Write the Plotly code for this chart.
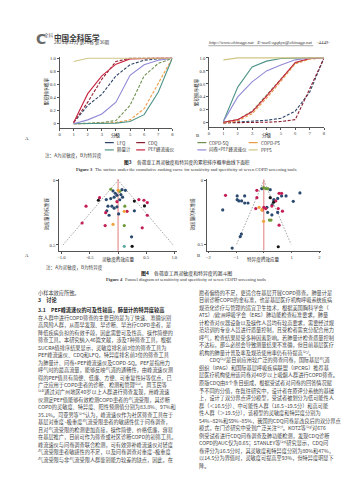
import plotly.graph_objects as go

W, H = 355, 480

# ---------------- data ----------------
grades = [1, 2, 3, 4, 5, 6, 7, 8]
tool_names = ["LFQ", "CDQ", "COPD-SQ", "COPD-PS", "肺量计", "PEF峰流速仪", "问卷+PEF峰流速仪", "PPFS"]

sens_LFQ = [0.02, 0.28, 0.45, 0.73, 0.90, 0.97, 0.99, 1.0]
sens_CDQ = [0.02, 0.33, 0.68, 0.95, 1.0, 1.0, 1.0, 1.0]
sens_COPDSQ = [0.0, 0.01, 0.02, 0.05, 0.28, 0.73, 0.92, 1.0]
sens_COPDPS = [0.0, 0.0, 0.01, 0.02, 0.06, 0.23, 0.61, 1.0]
sens_spiro = [0.0, 0.0, 0.0, 0.01, 0.035, 0.14, 0.48, 1.0]
sens_PEF = [0.02, 0.46, 0.73, 0.91, 0.99, 1.0, 1.0, 1.0]
sens_qPEF = [0.0, 0.06, 0.15, 0.33, 0.74, 0.90, 0.97, 1.0]
sens_PPFS = [0.95, 1.0, 1.0, 1.0, 1.0, 1.0, 1.0, 1.0]

spec_LFQ = [0.0, 0.01, 0.02, 0.04, 0.07, 0.18, 0.47, 1.0]
spec_CDQ = [0.0, 0.0, 0.01, 0.01, 0.02, 0.05, 0.52, 1.0]
spec_COPDSQ = [0.01, 0.05, 0.18, 0.43, 0.68, 0.92, 0.99, 1.0]
spec_COPDPS = [0.0, 0.03, 0.14, 0.38, 0.64, 0.91, 0.98, 1.0]
spec_spiro = [0.02, 0.55, 0.86, 0.95, 0.99, 1.0, 1.0, 1.0]
spec_PEF = [0.01, 0.05, 0.17, 0.41, 0.67, 0.93, 0.99, 1.0]
spec_qPEF = [0.02, 0.40, 0.63, 0.80, 0.89, 0.97, 1.0, 1.0]
spec_PPFS = [0.97, 1.0, 1.0, 1.0, 1.0, 1.0, 1.0, 1.0]

# funnel plot A (sensitivity): effect size, standard error
fa_navy_x = [-0.09, 0.07, -0.05, -0.02, -0.07, 0.05, -0.13, -0.21, -0.18, -0.11, -0.07, -0.02, -0.20, -0.16, 0.01, 0.29, 0.24, 0.13, 0.08, 0.03]
fa_navy_y = [0.082, 0.072, 0.10, 0.116, 0.13, 0.11, 0.141, 0.149, 0.20, 0.20, 0.215, 0.205, 0.236, 0.27, 0.26, 0.236, 0.437, 0.077, 0.13, 0.15]
fa_red_x = [-0.33, -0.57, -0.64, -0.22, -0.23, 0.16, 0.37, 0.46, 0.52, 0.52, 0.43, -0.02]
fa_red_y = [0.134, 0.20, 0.33, 0.25, 0.35, 0.24, 0.149, 0.154, 0.172, 0.27, 0.367, 0.165]
fa_black_x = [-0.35, 0.29, 0.47, 0.25]
fa_black_y = [0.154, 0.16, 0.198, 0.51]
fa_green_x = [-0.13, 0.11, 0.12, 0.03]
fa_green_y = [0.069, 0.35, 0.20, 0.085]
fa_orange_x = [0.0, -0.09, 0.11]
fa_orange_y = [0.077, 0.34, 0.24]
fa_teal_x = [0.11]
fa_teal_y = [0.51]

# funnel plot B (specificity)
fb_navy_x = [-0.96, -0.96, -0.9, -0.8, -0.69, -0.69, -0.57, -1.48, -0.81, -0.85, -1.14, -0.07, 0.23, 0.36, 0.5, 0.64, 0.8, 1.06, 1.3, 0.11, 0.5, 0.29, 0.14, 0.3]
fb_navy_y = [0.12, 0.15, 0.16, 0.16, 0.12, 0.176, 0.176, 0.23, 0.42, 0.44, 0.53, 0.063, 0.071, 0.15, 0.14, 0.12, 0.12, 0.163, 0.097, 0.21, 0.25, 0.27, 0.25, 0.19]
fb_red_x = [-1.38, -0.25, -0.25, 0.43, 0.55, 0.64, 0.0, 0.07, -0.29, 0.29, 0.52, 0.67, 0.55, -0.05]
fb_red_y = [0.116, 0.076, 0.134, 0.16, 0.10, 0.10, 0.21, 0.22, 0.22, 0.20, 0.22, 0.24, 0.35, 0.23]
fb_black_x = [0.23, 0.52, 0.35]
fb_black_y = [0.134, 0.52, 0.17]
fb_green_x = [-0.01, 0.07, 0.14, 0.2, 0.26]
fb_green_y = [0.055, 0.063, 0.063, 0.31, 0.31]
fb_orange_x = [-0.17, -0.07, -0.01]
fb_orange_y = [0.21, 0.23, 0.32]

se_max = 0.5

# ---------------- styles ----------------
tool_style = {
    "LFQ": ("#2d4466", "3px,1.6px"),
    "CDQ": ("#8e1f2f", "3px,1.6px"),
    "COPD-SQ": ("#6f9150", "3px,1.6px"),
    "COPD-PS": ("#ee9a45", "3px,1.6px"),
    "肺量计": ("#4f9488", "solid"),
    "PEF峰流速仪": ("#c8243f", "solid"),
    "问卷+PEF峰流速仪": ("#9089d6", "solid"),
    "PPFS": ("#cfc684", "solid"),
}
sens_vals = [sens_LFQ, sens_CDQ, sens_COPDSQ, sens_COPDPS, sens_spiro, sens_PEF, sens_qPEF, sens_PPFS]
spec_vals = [spec_LFQ, spec_CDQ, spec_COPDSQ, spec_COPDPS, spec_spiro, spec_PEF, spec_qPEF, spec_PPFS]

CJK = "Noto Sans CJK SC"
SERIF = "Liberation Serif"
SMALL = 4.6


def fx(p):
    return p / W


def fy(p):
    return 1 - p / H


fig = go.Figure()

for name, sv in zip(tool_names, sens_vals):
    c, d = tool_style[name]
    fig.add_trace(go.Scatter(x=grades, y=sv, mode="lines", line=dict(color=c, width=1.1, dash=d),
                             xaxis="x", yaxis="y", showlegend=False, name=name))
for name, sv in zip(tool_names, spec_vals):
    c, d = tool_style[name]
    fig.add_trace(go.Scatter(x=grades, y=sv, mode="lines", line=dict(color=c, width=1.1, dash=d),
                             xaxis="x2", yaxis="y2", showlegend=False, name=name))

pt_colors = {"navy": "#2b4a6f", "red": "#c41e54", "black": "#151515", "green": "#6e9a3c",
             "orange": "#f0a23a", "teal": "#62aaa4"}

for ax in ("3", "4"):
    fig.add_trace(go.Scatter(x=[-1.96 * se_max, 0, 1.96 * se_max], y=[se_max, 0, se_max], mode="lines",
                             line=dict(color="#8a8a8a", width=0.8, dash="1.5px,1.5px"),
                             xaxis="x" + ax, yaxis="y" + ax, showlegend=False))
    fig.add_trace(go.Scatter(x=[0, 0], y=[-0.01, 0.55], mode="lines",
                             line=dict(color="#e27a7a", width=1.0),
                             xaxis="x" + ax, yaxis="y" + ax, showlegend=False))

fa_groups = [("navy", fa_navy_x, fa_navy_y), ("red", fa_red_x, fa_red_y), ("black", fa_black_x, fa_black_y),
             ("green", fa_green_x, fa_green_y), ("orange", fa_orange_x, fa_orange_y), ("teal", fa_teal_x, fa_teal_y)]
fb_groups = [("navy", fb_navy_x, fb_navy_y), ("red", fb_red_x, fb_red_y), ("black", fb_black_x, fb_black_y),
             ("green", fb_green_x, fb_green_y), ("orange", fb_orange_x, fb_orange_y)]
for g, xs, ys in fa_groups:
    fig.add_trace(go.Scatter(x=xs, y=ys, mode="markers", marker=dict(color=pt_colors[g], size=3.2, line=dict(width=0)),
                             xaxis="x3", yaxis="y3", showlegend=False))
for g, xs, ys in fb_groups:
    fig.add_trace(go.Scatter(x=xs, y=ys, mode="markers", marker=dict(color=pt_colors[g], size=3.2, line=dict(width=0)),
                             xaxis="x4", yaxis="y4", showlegend=False))

axc = dict(showgrid=False, zeroline=False, showline=True, linecolor="#555", linewidth=0.7,
           ticks="outside", ticklen=2, tickwidth=0.6, tickcolor="#555",
           tickfont=dict(family=SERIF, size=SMALL, color="#333"))

yt = [0, 0.2, 0.4, 0.6, 0.8, 1.0]
ytt = ["0", "0.2", "0.4", "0.6", "0.8", "1.0"]

layout_axes = dict(
    xaxis=dict(axc, domain=[fx(51), fx(164.7)], range=[0, 8], tickvals=list(range(9)), anchor="y"),
    yaxis=dict(axc, domain=[fy(119), fy(48)], range=[-0.06, 1.02], tickvals=yt, ticktext=ytt, anchor="x"),
    xaxis2=dict(axc, domain=[fx(201.7), fx(317.7)], range=[0, 8], tickvals=list(range(9)), anchor="y2"),
    yaxis2=dict(axc, domain=[fy(118), fy(47.7)], range=[-0.06, 1.02], tickvals=yt, ticktext=ytt, anchor="x2"),
    xaxis3=dict(axc, domain=[fx(50.5), fx(169.5)], range=[-1.05, 1.05], tickvals=[-1, -0.5, 0, 0.5, 1],
                ticktext=["-1.0", "-0.5", "0", "0.5", "1.0"], anchor="y3"),
    yaxis3=dict(axc, domain=[fy(242.3), fy(170.4)], range=[0.545, -0.01], tickvals=[0, 0.5],
                ticktext=["0", "0.5"], anchor="x3"),
    xaxis4=dict(axc, domain=[fx(199.6), fx(314.4)], range=[-2.05, 2.05], tickvals=[-2, -1, 0, 1, 2], anchor="y4"),
    yaxis4=dict(axc, domain=[fy(242.1), fy(170.7)], range=[0.55, -0.01], tickvals=[0, 0.5],
                ticktext=["0", "0.5"], anchor="x4"),
)

ann = []
shapes = []


def txt(x, y, s, size=5.0, family=CJK, color="#222", xanchor="left", angle=0, weight="normal", style="normal"):
    ann.append(dict(x=fx(x), y=fy(y), xref="paper", yref="paper", text=s, showarrow=False,
                    xanchor=xanchor, yanchor="middle", textangle=angle, borderpad=0,
                    font=dict(family=family, size=size, color=color, weight=weight, style=style)))


SUPMAP = str.maketrans("0123456789[]", "⁰¹²³⁴⁵⁶⁷⁸⁹⁽⁾")


def cw(ch):
    if ch in "⁰¹²³⁴⁵⁶⁷⁸⁹⁽⁾":
        return 0.36
    if ord(ch) > 0x2E80:
        return 1.0
    if ch in "il.,:;|!()[]'":
        return 0.3
    if ch == " ":
        return 0.28
    if ch.isupper():
        return 0.66
    return 0.56


def sw(ch):
    # rough Times widths
    if ch == " ":
        return 0.25
    if ch.isupper():
        return 0.69
    if ch.isdigit():
        return 0.5
    if ch in "iltfjr.,":
        return 0.3
    if ch in "mw":
        return 0.75
    if ord(ch) > 0x2E80:
        return 1.0
    return 0.47


def caption(cx, y, head, rest, size, family, wfun, color="#222"):
    hw = sum(wfun(c) for c in head) * size * 1.04
    rw = sum(wfun(c) for c in rest) * size
    x0 = cx - (hw + rw) / 2
    txt(x0, y, head, size=size, family=family, color=color, weight="bold")
    txt(x0 + hw, y, rest, size=size, family=family, color=color)


# header
txt(26.5, 30.2, "C", size=14, family="DejaVu Sans", color="#6a6a6a", weight="bold")
txt(34.3, 26.6, "全科", size=SMALL, color="#6a6a6a")
txt(44.5, 28.4, "中国全科医学", size=7.6, color="#3a3a3a", weight="bold")
txt(44.5, 34.0, "2023年12月 第26卷 第36期", size=SMALL, color="#444")
txt(201, 34, "http://www.chinagp.net   E-mail:zgqkyx@chinagp.net", size=4.8, family=SERIF, color="#333", style="italic")
txt(325, 34, "·4449·", size=4.8, family=SERIF, color="#333", xanchor="right")
shapes.append(dict(type="line", xref="paper", yref="paper", x0=fx(201), x1=fx(307), y0=fy(36.8), y1=fy(36.8),
                   line=dict(color="#555", width=0.5)))

# figure 3 titles
txt(38, 83, "累积排序概率", size=SMALL, angle=-90, xanchor="center")
txt(189, 83, "累积排序概率", size=SMALL, angle=-90, xanchor="center")
txt(108, 126.3, "分级", size=SMALL, xanchor="center")
txt(259.7, 126.3, "分级", size=SMALL, xanchor="center")
txt(15, 129.5, "A", size=4.8, family=SERIF)
txt(188, 126.5, "B", size=4.8, family=SERIF)

# legend
leg_cols = [96.7, 128.3, 190, 241.7]
for i, name in enumerate(tool_names):
    r, cidx = divmod(i, 4)
    yy = 133.9 + r * 7.3
    x0 = leg_cols[cidx]
    c, d = tool_style[name]
    shapes.append(dict(type="line", xref="paper", yref="paper", x0=fx(x0), x1=fx(x0 + 9), y0=fy(yy), y1=fy(yy),
                       line=dict(color=c, width=1.2, dash="dash" if d != "solid" else "solid")))
    txt(x0 + 11, yy, name, size=4.5, family=CJK, color="#333")

txt(35, 147.2, "注：A为灵敏度，B为特异度", size=SMALL, color="#333")
caption(178, 153.8, "图3　", "各筛查工具灵敏度和特异度的累积排序概率曲线下面积", 4.7, CJK, cw)
caption(178, 160.6, "Figure 3  ", "The surface under the cumulative ranking curve for sensitivity and specificity of seven COPD screening tools",
        SMALL, SERIF, sw, color="#333")

# figure 4 titles
txt(38, 205, "效应量的标准误", size=SMALL, angle=-90, xanchor="center")
txt(185.5, 205, "效应量的标准误", size=SMALL, angle=-90, xanchor="center")
txt(110, 250.6, "灵敏度的效应量", size=SMALL, xanchor="center")
txt(257, 250.6, "特异度的效应量", size=SMALL, xanchor="center")
txt(15, 247, "A", size=4.8, family=SERIF)
txt(189, 247, "B", size=4.8, family=SERIF)
txt(36, 258.6, "注：A为灵敏度，B为特异度", size=SMALL, color="#333")
caption(178, 264.3, "图4　", "各筛查工具灵敏度和特异度的漏斗图", 4.9, CJK, cw)
caption(178, 271.0, "Figure 4  ", "Funnel diagram of sensitivity and specificity of seven COPD screening tools",
        SMALL, SERIF, sw, color="#333")

# ---------------- body text ----------------
BODY = 5.2
COLW = 26.2  # em
BODYC = "#444"


def tokenize(s):
    toks = []
    i = 0
    while i < len(s):
        ch = s[i]
        if ch == "{":
            j = s.index("}", i)
            sup = s[i + 1:j].translate(SUPMAP)
            toks.append((sup, sum(cw(c) for c in sup)))
            i = j + 1
        elif ord(ch) < 0x2E80 and ch != " ":
            j = i
            while j < len(s) and ord(s[j]) < 0x2E80 and s[j] not in " {":
                j += 1
            w = s[i:j]
            toks.append((w, sum(cw(c) for c in w)))
            i = j
        else:
            toks.append((ch, cw(ch)))
            i += 1
    return toks


NOSTART = set("，。、；：）”》％")


def wrap(s, width):
    lines = []
    cur, cwid = "", 0.0
    for t, w in tokenize(s):
        if cwid + w > width and cur and t not in NOSTART:
            lines.append(cur)
            cur, cwid = "", 0.0
        cur += t
        cwid += w
    if cur:
        lines.append(cur)
    return lines


left_head = "3.1　PEF峰流速仪的可及性较高，肺量计的特异度较高"
left_para = (left_head + "　在人群中进行COPD筛查的主要目的是为了快速、准确识别高风险人群，从而早发现、早诊断、早治疗COPD患者，"
             "是降低疾病负担的有效手段，因此需要可及性高、操作简便的筛查工具。本研究纳入46篇文献，涉及7种筛查工具，"
             "根据SUCRA值排序结果显示，灵敏度排名前3位的筛查工具为PEF峰流速仪、CDQ和LFQ，特异度排名前3位的筛查工具为"
             "肺量计、问卷+PEF峰流速仪及COPD-SQ。PEF是指用力呼气时的最高流量，能够反映气道的通畅性，由峰流速仪测得的"
             "PEF值具有简便、低廉、方便、可重复性好等优点，已广泛应用于COPD患者的诊断、检测和管理{[22]}。周玉民等{[23]}"
             "通过对广州地区40岁以上人群进行筛查发现，用峰流速仪测定PEF值能够有效检测COPD患者的气流受限，其诊断COPD的"
             "灵敏度、特异度、阳性预测值分别为83.8%、97%和35.1%。司亚男等{[24]}认为，峰流速仪作为社区筛查工具在于基层"
             "对重度~极重度气流受限患者的敏感性优于问卷调查，且对气流受限的检测更加直接，操作简便、价格低廉，容易在基层"
             "推广，目前可作为筛查或社区诊断COPD的初筛工具。峰流速仪与问卷调查联合检测，可有效弥补峰流速仪对轻度气流"
             "受限患者敏感性的不足，以及问卷调查对重度~极重度气流受限与非气流受限人群鉴别能力较差的缺点，因此，在基层"
             "医疗机构开展COPD筛查时，可优先考虑峰流速仪联合问卷的筛查策略，以提高筛查的准确性和效率。")

right_p1 = ("愿者偏倚的不足，更适合在基层开展COPD筛查。肺量计是目前诊断COPD的金标准，也是基层医疗机构呼吸系统疾病"
            "规范化诊疗与管理的适宜卫生技术，根据美国胸科学会（ATS）/欧洲呼吸学会（ERS）肺功能检查标准要求，肺量计"
            "检查对仪器设备以及操作人员均有较高要求，需要经过规范培训的专业人员进行质量控制，且受检者需充分配合用力"
            "呼气，检查结果易受多种因素影响。若肺量计检查质量控制不达标，那么必然会导致测量结果不准确，但目前基层医疗"
            "机构的肺量计普及率及规范使用率仍有待提高{[25]}。")
right_p2 = ("　　CDQ{[26]}是目前应用较广泛的筛查问卷，国际基层气道组织（IPAG）和国际基层呼吸疾病联盟（IPCRG）推荐基层"
            "医疗机构使用该问卷对40岁以上吸烟人群进行COPD筛查。原版CDQ由8个条目组成，根据受试者对问卷的回答情况赋予"
            "不同的分值，在既往研究中，设计者在原评分系统的基础上，设计了双分界点评分模型，受试者被划分为低可能性人群"
            "（＜16.5分）、中可能性人群（16.5~19.5分）和高可能性人群（＞19.5分），该模型的灵敏度和特异度分别为"
            "54%~82%和59%~85%，我国的CDQ问卷是改良后的双分界点模式，在门诊研究中受到广泛关注{[27]}。KOTZ等{[28]}对"
            "676例受试者进行CDQ问卷调查及肺功能检测，发现CDQ诊断COPD的AUC仅为0.65；STANLEY等{[29]}研究显示，CDQ问卷"
            "评分为16.5分时，其灵敏度和特异度分别为80%和47%，以14.5分为界值时，灵敏度可提高至93%，但特异度明显下降。")

# left column
LX = 28
txt(LX, 284.2, "小样本效应所致。", size=BODY, color=BODYC)
txt(LX, 291.8, "3　讨论", size=BODY, color="#222", weight="bold")
llines = wrap(left_para, COLW)[:21]
for k, ln in enumerate(llines):
    yy = 301.8 + k * 7.5
    if k == 0 and ln.startswith(left_head):
        txt(LX, yy, left_head, size=BODY, color="#222", weight="bold")
        hw = sum(cw(c) for c in left_head) * BODY * 1.02
        txt(LX + hw, yy, ln[len(left_head):], size=BODY, color=BODYC)
    else:
        txt(LX, yy, ln, size=BODY, color=BODYC)

# right column
RX = 190.5
rl = wrap(right_p1, COLW)[:9] + wrap(right_p2, COLW)[:15]
for k, ln in enumerate(rl):
    txt(RX, 284.2 + k * 7.55, ln, size=BODY, color=BODYC)

fig.update_layout(width=W, height=H, margin=dict(l=0, r=0, t=0, b=0), paper_bgcolor="white",
                  plot_bgcolor="white", showlegend=False, annotations=ann, shapes=shapes, **layout_axes)

fig.write_html("out.html")
